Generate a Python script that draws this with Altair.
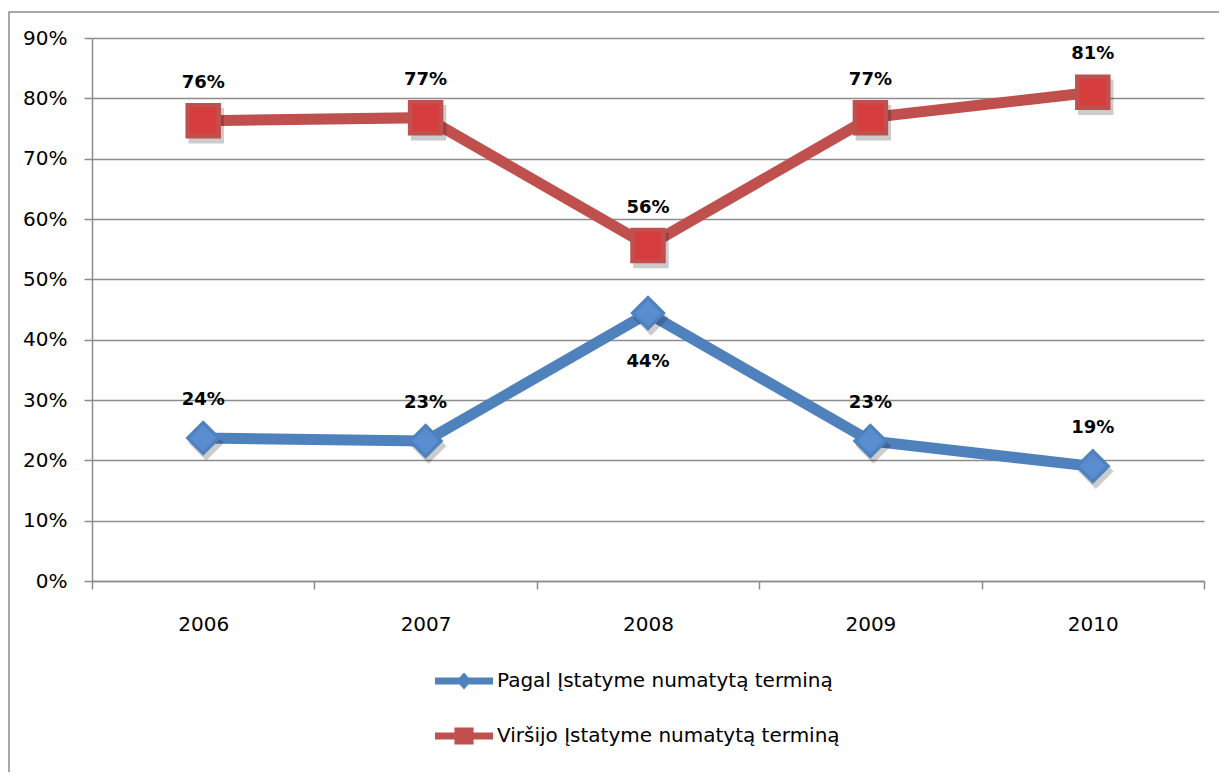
import altair as alt
import pandas as pd

years = ["2006", "2007", "2008", "2009", "2010"]
series_names = ["Pagal Įstatyme numatytą terminą", "Viršijo Įstatyme numatytą terminą"]
pagal = [0.237, 0.232, 0.444, 0.232, 0.190]
virsijo = [0.763, 0.768, 0.556, 0.768, 0.810]
y_ticks = [0.0, 0.1, 0.2, 0.3, 0.4, 0.5, 0.6, 0.7, 0.8, 0.9]

rows = []
for i, yr in enumerate(years):
    rows.append({"year": yr, "series": series_names[0], "value": pagal[i]})
    rows.append({"year": yr, "series": series_names[1], "value": virsijo[i]})
df = pd.DataFrame(rows)

W, H = 1112, 543
FONT = "DejaVu Sans"
GRID = "#8c8c8c"
LINE_COLORS = ["#4F81BD", "#C0504D"]
INNER_COLORS = ["#5A8DD0", "#D63D3D"]

BLUE_PATH = "M-1,-0.12H1V0.12H-1Z M0,-0.29L0.26,0L0,0.29L-0.26,0Z"
RED_PATH = "M-1,-0.12H1V0.12H-1Z M-0.33,-0.29H0.33V0.29H-0.33Z"

x_enc = alt.X(
    "year:N",
    sort=years,
    scale=alt.Scale(type="band", paddingInner=0, paddingOuter=0),
    axis=alt.Axis(
        title=None, labelAngle=0, tickBand="extent", tickSize=8, tickWidth=1.5,
        tickColor=GRID, domainColor=GRID, domainWidth=1.5, grid=False,
        labelFont=FONT, labelFontSize=20, labelColor="#000000", labelPadding=25,
    ),
)
y_enc = alt.Y(
    "value:Q",
    scale=alt.Scale(domain=[0, 0.9], nice=False),
    axis=alt.Axis(
        title=None, values=y_ticks, format=".0%", tickSize=8, tickWidth=1.5,
        tickColor=GRID, domainColor=GRID, domainWidth=1.5, grid=True,
        gridColor=GRID, gridWidth=1.5, labelFont=FONT, labelFontSize=20,
        labelColor="#000000", labelPadding=17,
    ),
)
# data-driven domains (alphabetical order matches series_names order)
shape_enc = alt.Shape(
    "s_shape:N",
    scale=alt.Scale(range=["diamond", "square"]),
    legend=None,
)

base = alt.Chart(df).transform_calculate(
    s_shape="datum.series", s_fill="datum.series", s_line="datum.series"
)

frame = alt.Chart(alt.Data(values=[{"k": 1}])).mark_rect(
    fillOpacity=0, stroke=GRID, strokeWidth=1.5
).encode(
    x=alt.value(-83), x2=alt.value(W + 200),
    y=alt.value(-26), y2=alt.value(H + 400),
)

lines = base.mark_line(strokeWidth=11).encode(
    x=x_enc, y=y_enc,
    stroke=alt.Stroke("s_line:N", scale=alt.Scale(range=LINE_COLORS), legend=None),
)

shadow = base.mark_point(
    filled=True, size=1260, opacity=0.2, color="#000000", xOffset=3, yOffset=5
).encode(x=x_enc, y=y_enc, shape=shape_enc)

legend = alt.Legend(
    title=None, orient="none", legendX=343, legendY=614, direction="vertical",
    symbolType={"expr": f"datum.index === 0 ? '{BLUE_PATH}' : '{RED_PATH}'"},
    symbolSize=3364, symbolStrokeWidth=0, labelFont=FONT, labelFontSize=20,
    labelColor="#000000", labelLimit=600, labelOffset=4, rowPadding=16, padding=0,
)

outer = base.mark_point(filled=True, size=1260, opacity=1).encode(
    x=x_enc, y=y_enc, shape=shape_enc,
    color=alt.Color("series:N", scale=alt.Scale(domain=series_names, range=LINE_COLORS), legend=legend),
)

inner = base.mark_point(filled=True, size=700, opacity=1).encode(
    x=x_enc, y=y_enc, shape=shape_enc,
    fill=alt.Fill("s_fill:N", scale=alt.Scale(range=INNER_COLORS), legend=None),
)

below_expr = f"datum.series === '{series_names[0]}' && datum.value > 0.4"

labels_above = base.transform_filter(f"!({below_expr})").mark_text(
    dy=-33, baseline="alphabetic", font=FONT, fontSize=18, fontWeight="bold", color="#000000"
).encode(x=x_enc, y=y_enc, text=alt.Text("value:Q", format=".0%"))

labels_below = base.transform_filter(below_expr).mark_text(
    dy=54, baseline="alphabetic", font=FONT, fontSize=18, fontWeight="bold", color="#000000"
).encode(x=x_enc, y=y_enc, text=alt.Text("value:Q", format=".0%"))

chart = alt.layer(frame, lines, shadow, outer, inner, labels_above, labels_below).properties(
    width=W, height=H,
    autosize=alt.AutoSizeParams(type="none"),
    padding={"left": 84, "top": 30, "right": 15, "bottom": 191},
    background="#ffffff",
).configure_view(stroke=None)

chart.save("out.html", embed_options={"renderer": "svg", "actions": False})
